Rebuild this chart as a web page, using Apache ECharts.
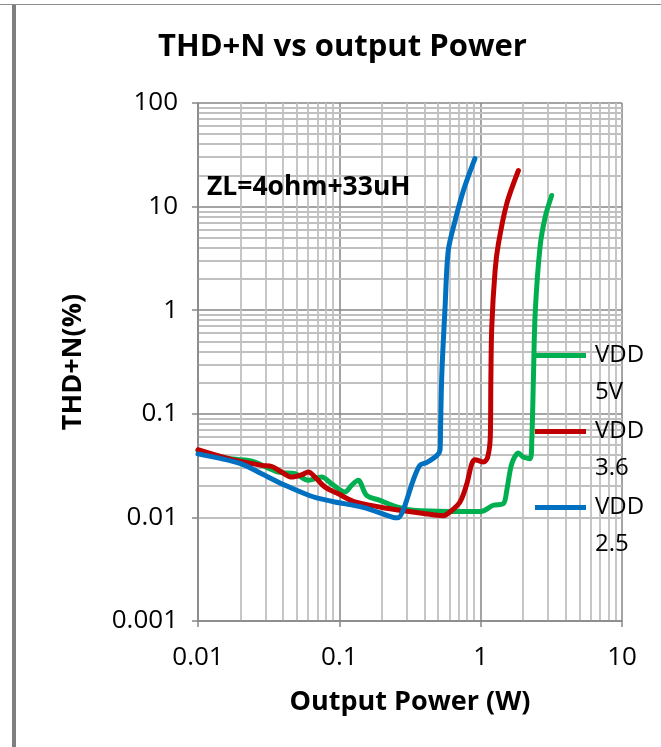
<!DOCTYPE html>
<html><head><meta charset="utf-8">
<script src="https://cdn.jsdelivr.net/npm/echarts@6/dist/echarts.min.js"></script>
<style>html,body{margin:0;padding:0;background:#fff}#c{width:661px;height:747px}</style>
</head><body><div id="c"></div>
<script>
// ---- data (Output Power W, THD+N %) ----
const vdd5Power = [0.01, 0.0164, 0.0227, 0.0253, 0.037, 0.0486, 0.0604, 0.075, 0.0883, 0.1096, 0.122, 0.136, 0.156, 0.194, 0.255, 0.333, 0.6, 1.0, 1.23, 1.45, 1.53, 1.66, 1.85, 2.0, 2.24, 2.30, 2.36, 2.43, 2.63, 2.86, 3.18];
const vdd5Thd   = [0.044, 0.037, 0.0355, 0.0342, 0.0274, 0.0264, 0.0228, 0.0245, 0.0211, 0.0176, 0.0204, 0.0228, 0.0163, 0.0146, 0.0126, 0.0117, 0.0114, 0.0114, 0.0131, 0.0136, 0.0182, 0.033, 0.0418, 0.0382, 0.0369, 0.0553, 0.21, 0.925, 4.06, 7.92, 12.8];

const vdd36Power = [0.01, 0.0164, 0.0282, 0.0333, 0.039, 0.046, 0.0542, 0.0604, 0.0673, 0.0793, 0.0984, 0.129, 0.229, 0.394, 0.544, 0.607, 0.714, 0.798, 0.865, 0.912, 1.045, 1.12, 1.17, 1.18, 1.198, 1.265, 1.335, 1.53, 1.85];
const vdd36Thd   = [0.045, 0.0369, 0.0318, 0.031, 0.0274, 0.0245, 0.0258, 0.0274, 0.0245, 0.0196, 0.0169, 0.0141, 0.0121, 0.0109, 0.0104, 0.0113, 0.0141, 0.0211, 0.033, 0.036, 0.0342, 0.038, 0.06, 0.2, 0.687, 2.42, 4.38, 10.7, 22.3];

const vdd25Power = [0.01, 0.0198, 0.0282, 0.0413, 0.0571, 0.0673, 0.093, 0.147, 0.24, 0.26, 0.2825, 0.333, 0.372, 0.417, 0.491, 0.516, 0.52, 0.531, 0.56, 0.59, 0.66, 0.755, 0.91];
const vdd25Thd   = [0.041, 0.0332, 0.0264, 0.0204, 0.0169, 0.0156, 0.0141, 0.0125, 0.0100, 0.0099, 0.0117, 0.0228, 0.0318, 0.034, 0.0397, 0.045, 0.07, 0.24, 1.07, 3.78, 7.36, 14.3, 29];

const seriesNames = ['VDD 5V', 'VDD 3.6', 'VDD 2.5'];
const seriesColors = ['#00B050', '#C00000', '#0070C0'];
const xDecades = [0.01, 0.1, 1];
const yDecades = [0.001, 0.01, 0.1, 1, 10];
const minorSteps = [2, 3, 4, 5, 6, 7, 8, 9];

const pair = (xs, ys) => xs.map((x, i) => [x, ys[i]]);
const seriesData = [pair(vdd5Power, vdd5Thd), pair(vdd36Power, vdd36Thd), pair(vdd25Power, vdd25Thd)];

const xMinor = [], yMinor = [];
xDecades.forEach(d => minorSteps.forEach(m => xMinor.push(+(d * m).toPrecision(3))));
yDecades.forEach(d => minorSteps.forEach(m => yMinor.push(+(d * m).toPrecision(3))));

const FONT = 'Open Sans';
const fmt = v => String(+(+v).toPrecision(3));

const chart = echarts.init(document.getElementById('c'), null, {renderer: 'canvas'});
const legendTops = [337, 413, 489];
// legend icon: a 51x5 bar at the top of a 55x42 box, so it sits level with the first text line
const legendIcon = 'path://M0,0H51V5H0Z M54.99,41.99H55V42H54.99Z';

chart.setOption({
  animation: false,
  backgroundColor: '#fff',
  title: {
    text: 'THD+N vs output Power',
    left: 153, top: 27,
    textStyle: {fontFamily: FONT, fontWeight: 'bold', fontSize: 31, color: '#000'}
  },
  grid: {left: 198, right: 39, top: 103, bottom: 126, containLabel: false},
  xAxis: {
    type: 'log', logBase: 10, min: 0.01, max: 10,
    name: 'Output Power (W)', nameLocation: 'middle', nameGap: 68,
    nameTextStyle: {fontFamily: FONT, fontWeight: 'bold', fontSize: 27, color: '#000'},
    axisLine: {show: true, lineStyle: {color: '#868686', width: 1.5}},
    axisTick: {show: true, length: 6, lineStyle: {color: '#868686', width: 1.5}},
    axisLabel: {fontFamily: FONT, fontSize: 26, color: '#000', margin: 24, formatter: fmt},
    splitLine: {show: true, lineStyle: {color: '#868686', width: 1.5}},
    minorTick: {show: false}
  },
  yAxis: {
    type: 'log', logBase: 10, min: 0.001, max: 100,
    name: 'THD+N(%)', nameLocation: 'middle', nameGap: 111,
    nameTextStyle: {fontFamily: FONT, fontWeight: 'bold', fontSize: 27, color: '#000'},
    axisLine: {show: true, lineStyle: {color: '#868686', width: 1.5}},
    axisTick: {show: true, length: 6, lineStyle: {color: '#868686', width: 1.5}},
    axisLabel: {fontFamily: FONT, fontSize: 26, color: '#000', margin: 20, formatter: fmt},
    splitLine: {show: true, lineStyle: {color: '#868686', width: 1.5}}
  },
  legend: seriesNames.map((name, i) => ({
    data: [name], orient: 'vertical', left: 535, top: legendTops[i], padding: 0, z: 20,
    itemWidth: 55, itemHeight: 42, icon: legendIcon, selectedMode: false,
    formatter: n => n.replace(' ', '\n'),
    textStyle: {fontFamily: FONT, fontSize: 24, color: '#000', lineHeight: 37}
  })),
  graphic: [
    {type: 'rect', left: 12, top: 5, shape: {width: 4, height: 742}, style: {fill: '#7f7f7f'}, silent: true},
    {type: 'rect', left: 0, top: 4, shape: {width: 661, height: 1}, style: {fill: '#8c8c8c'}, silent: true},
    {type: 'text', left: 207, top: 174, silent: true, z: 20,
      style: {text: 'ZL=4ohm+33uH', fontFamily: FONT, fontWeight: 'bold', fontSize: 26.5, fill: '#000'}}
  ],
  series: [
    {
      name: 'grid-minor', type: 'line', data: [], silent: true, z: 0,
      markLine: {
        silent: true, z: 0, symbol: ['none', 'none'], label: {show: false},
        lineStyle: {color: '#c0c0c0', width: 1.8, type: 'solid'},
        emphasis: {disabled: true},
        data: xMinor.map(v => ({xAxis: v})).concat(yMinor.map(v => ({yAxis: v})))
      }
    }
  ].concat(seriesNames.map((name, i) => ({
    name, type: 'line', data: seriesData[i], showSymbol: false, symbol: 'none',
    smooth: 0.3, z: 6 + i,
    lineStyle: {color: seriesColors[i], width: 5, cap: 'round', join: 'round'},
    itemStyle: {color: seriesColors[i]}
  })))
});
</script>
</body></html>
